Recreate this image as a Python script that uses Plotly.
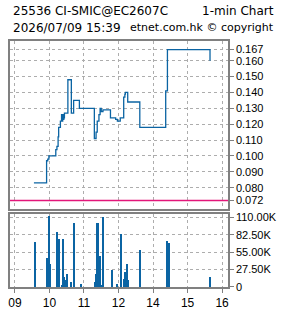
import plotly.graph_objects as go

# ---------------- data ----------------
price_times = ["09:33", "09:55", "09:57", "09:59", "10:11", "10:13", "10:15", "10:16",
               "10:19", "10:21", "10:22", "10:23", "10:24", "10:25", "10:26", "10:32",
               "10:38", "10:42", "10:52", "11:18", "11:21", "11:23", "11:26", "11:28",
               "11:30", "11:33", "11:46", "11:55", "11:58", "13:03", "13:09", "13:11",
               "13:12", "13:16", "13:37", "14:22", "14:25", "15:39"]
price_values = [0.083, 0.097, 0.098, 0.100, 0.104, 0.106, 0.112, 0.118,
                0.122, 0.126, 0.122, 0.126, 0.123, 0.124, 0.127, 0.148,
                0.127, 0.135, 0.130, 0.111, 0.115, 0.122, 0.126, 0.130,
                0.128, 0.129, 0.124, 0.123, 0.122, 0.124, 0.137, 0.139,
                0.140, 0.134, 0.118, 0.141, 0.167, 0.160]

vol_times = ["09:35", "09:55", "09:59", "10:01", "10:13", "10:16", "10:21", "10:23",
             "10:24", "10:26", "10:27", "10:31", "10:38", "10:43", "10:54", "11:19",
             "11:21", "11:23", "11:24", "11:27", "11:31", "11:33", "11:49", "11:57",
             "13:04", "13:09", "13:11", "13:14", "13:16", "13:38", "14:24", "14:25",
             "14:27", "15:39"]
vol_values = [71200, 45400, 112000, 35300, 86300, 75700, 3000, 75700,
              75700, 15000, 10000, 19700, 7600, 101400, 4500, 7600,
              20000, 101400, 101400, 49000, 3000, 110000, 25700, 4500,
              82800, 12000, 22700, 35300, 10000, 58000, 72200, 50500,
              68600, 16100]

prev_close = 0.072

x_tick_times = ["09:00", "10:00", "11:00", "12:00", "14:00", "15:00", "16:00"]
x_tick_labels = ["09", "10", "11", "12", "14", "15", "16"]
price_ticks = [0.167, 0.160, 0.150, 0.140, 0.130, 0.120, 0.110, 0.100, 0.090, 0.080, 0.072]
vol_ticks = [0, 27500, 55000, 82500, 110000]
vol_tick_labels = ["0", "27.50K", "55.00K", "82.50K", "110.00K"]

title_left = "25536 CI-SMIC@EC2607C"
title_right = "1-min Chart"
sub_left = "2026/07/09 15:39"
sub_right = "etnet.com.hk \u00a9 copyright"


def session_hours(hhmm):
    """Trading-session scale: lunch hour 12:00-13:00 removed."""
    h, m = map(int, hhmm.split(":"))
    v = h + m / 60.0
    if v >= 13:
        v -= 1
    return v


px = [session_hours(t) for t in price_times]
vx = [session_hours(t) for t in vol_times]
tx = [session_hours(t) for t in x_tick_times]

BLUE = "#0b64a3"
PINK = "#e3177a"
FRAME = "#808080"
GRID = "#adadad"
DASH = "3px,3px"
XR = [8.857, 15.171]

fig = go.Figure()
fig.add_trace(go.Scatter(x=XR, y=[prev_close, prev_close], mode="lines",
                         line=dict(color=PINK, width=1.5), xaxis="x", yaxis="y",
                         hoverinfo="skip", showlegend=False))
fig.add_trace(go.Scatter(x=px, y=price_values, mode="lines", line_shape="hv",
                         line=dict(color=BLUE, width=1.3), xaxis="x", yaxis="y",
                         showlegend=False))
fig.add_trace(go.Bar(x=vx, y=vol_values, width=0.03, marker=dict(color=BLUE, line=dict(width=0)),
                     xaxis="x2", yaxis="y2", showlegend=False))

tick_font = dict(family="Liberation Sans", size=11, color="black")
common_x = dict(range=XR, tickvals=tx, showgrid=True, gridcolor=GRID, griddash=DASH,
                gridwidth=1, showline=True, mirror=True, linecolor=FRAME, linewidth=1.5,
                zeroline=False, fixedrange=True)

fig.update_layout(
    width=285, height=318,
    margin=dict(l=8, r=56, t=41, b=20),
    paper_bgcolor="white", plot_bgcolor="white",
    bargap=0,
    xaxis=dict(domain=[0, 1], anchor="y", showticklabels=False, ticks="", **common_x),
    yaxis=dict(domain=[0.319, 1], anchor="x", side="right", range=[0.0669, 0.1724],
               tickvals=price_ticks, ticktext=["%.3f" % v for v in price_ticks],
               showgrid=True, gridcolor=GRID, griddash=DASH, showline=True, mirror=True,
               linecolor=FRAME, linewidth=1.5, ticks="outside", ticklen=4, tickcolor=FRAME,
               tickfont=tick_font, zeroline=False),
    xaxis2=dict(domain=[0, 1], anchor="y2", ticktext=x_tick_labels, ticks="outside",
                ticklen=4, tickcolor=FRAME,
                tickfont=dict(family="Liberation Sans", size=12, color="black"),
                **common_x),
    yaxis2=dict(domain=[0, 0.2957], anchor="x2", side="right", range=[0, 115000],
                tickvals=vol_ticks, ticktext=vol_tick_labels,
                showgrid=True, gridcolor=GRID, griddash=DASH, showline=True, mirror=True,
                linecolor=FRAME, linewidth=1.5, ticks="outside", ticklen=4, tickcolor=FRAME,
                tickfont=tick_font, zeroline=False),
)

hdr_font = dict(family="DejaVu Sans", size=12, color="black")
fig.add_annotation(text=title_left, xref="paper", yref="paper", x=0.005, y=1.121,
                   xanchor="left", yanchor="middle", showarrow=False, font=hdr_font)
fig.add_annotation(text=title_right, xref="paper", yref="paper", x=1.222, y=1.121,
                   xanchor="right", yanchor="middle", showarrow=False, font=hdr_font)
fig.add_annotation(text=sub_left, xref="paper", yref="paper", x=0.005, y=1.054,
                   xanchor="left", yanchor="middle", showarrow=False, font=hdr_font)
fig.add_annotation(text=sub_right, xref="paper", yref="paper", x=1.222, y=1.054,
                   xanchor="right", yanchor="middle", showarrow=False,
                   font=dict(family="DejaVu Sans", size=11, color="black"))

fig.write_html("out.html")
